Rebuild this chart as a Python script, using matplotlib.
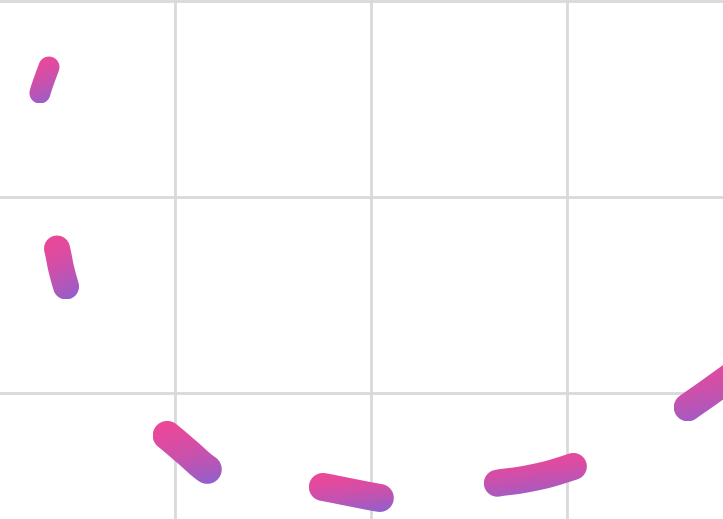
import numpy as np
import matplotlib
matplotlib.use("Agg")
import matplotlib.pyplot as plt
from matplotlib.path import Path
from matplotlib.patches import PathPatch
from matplotlib.colors import to_rgb

# ---- data ----
x_vals = [0.357, 0.311, 0.291, 0.301, 0.337, 0.398, 0.418, 0.444, 0.505, 0.592,
          0.709, 0.832, 0.959, 1.061, 1.163, 1.255, 1.383, 1.536, 1.663, 1.755,
          1.898, 2.046, 2.173, 2.301, 2.429, 2.546, 2.648, 2.760, 2.888, 2.974,
          3.036, 3.168, 3.321, 3.474, 3.617, 3.704, 3.796, 3.908]
y_vals = [26.64, 25.32, 24.15, 22.37, 19.82, 17.38, 16.41, 15.45, 13.46, 11.58,
          10.00, 8.83, 7.86, 7.00, 6.13, 5.73, 5.47, 5.37, 5.32, 5.22,
          4.94, 4.66, 4.50, 4.55, 4.81, 5.17, 5.42, 5.57, 5.83, 6.08,
          6.28, 6.69, 7.30, 8.22, 9.29, 9.90, 10.56, 11.37]
x_ticks = [1, 2, 3]
y_ticks = [10, 20, 30]

# ---- style ----
DASH_PATTERN = [27.5, 158, 39, 185, 52.5, 118, 58, 120, 78, 130, 400]  # pixels on/off
DASH_WIDTHS = [21, 26, 29, 28, 27, 28]                                  # pixels
PINK = np.array(to_rgb("#ec4899"))
PURPLE = np.array(to_rgb("#8c62d0"))
GRID = "#d9d9d9"

fig = plt.figure(figsize=(7.23, 5.19), dpi=100)
ax = fig.add_axes([0, 0, 1, 1])
XLIM = (0.1071, 3.7959)
YLIM = (3.588, 30.06)
ax.set_xlim(*XLIM)
ax.set_ylim(*YLIM)
ax.set_xticks(x_ticks)
ax.set_yticks(y_ticks)
ax.grid(True, color=GRID, linewidth=2.0)
ax.set_axisbelow(True)
ax.tick_params(length=0, labelbottom=False, labelleft=False)
for sp in ax.spines.values():
    sp.set_visible(False)


def catmull(P, n=10):
    P = np.asarray(P, float)
    ext = np.vstack([P[0], P, P[-1]])
    out = []
    t = np.linspace(0, 1, n, endpoint=False)[:, None]
    for i in range(1, len(ext) - 2):
        p0, p1, p2, p3 = ext[i - 1], ext[i], ext[i + 1], ext[i + 2]
        pts = 0.5 * ((2 * p1) + (-p0 + p2) * t + (2 * p0 - 5 * p1 + 4 * p2 - p3) * t ** 2
                     + (-p0 + 3 * p1 - 3 * p2 + p3) * t ** 3)
        out.append(pts)
    out.append(P[-1][None, :])
    return np.vstack(out)


disp = ax.transData.transform(np.column_stack([x_vals, y_vals]))
dense = catmull(disp, 12)
seglen = np.hypot(*np.diff(dense, axis=0).T)
s = np.concatenate([[0], np.cumsum(seglen)])
inv = ax.transData.inverted()


def draw_dash(a, b, w):
    n = max(int((b - a) / 1.0), 6)
    ss = np.linspace(a, b, n)
    cx = np.interp(ss, s, dense[:, 0])
    cy = np.interp(ss, s, dense[:, 1])
    tx, ty = np.gradient(cx), np.gradient(cy)
    nrm = np.hypot(tx, ty)
    tx, ty = tx / nrm, ty / nrm
    nx, ny = -ty, tx
    r = w / 2.0
    left = np.column_stack([cx + nx * r, cy + ny * r])
    right = np.column_stack([cx - nx * r, cy - ny * r])
    th_e = np.arctan2(ny[-1], nx[-1]) - np.linspace(0, np.pi, 24)
    end_arc = np.column_stack([cx[-1] + r * np.cos(th_e), cy[-1] + r * np.sin(th_e)])
    th_s = np.arctan2(ny[0], nx[0]) + np.pi - np.linspace(0, np.pi, 24)
    start_arc = np.column_stack([cx[0] + r * np.cos(th_s), cy[0] + r * np.sin(th_s)])
    poly = np.vstack([left, end_arc, right[::-1], start_arc, left[:1]])
    x0, y0 = poly.min(axis=0)
    x1, y1 = poly.max(axis=0)
    poly_d = inv.transform(poly)
    path = Path(poly_d, closed=True)
    patch = PathPatch(path, transform=ax.transData, facecolor="none", edgecolor="none")
    U, V = np.meshgrid(np.linspace(0, 1, 120), np.linspace(0, 1, 120))
    T = np.clip(0.2 * U + 0.8 * V, 0, 1) ** 1.6
    T = T[..., None]
    img = PINK * (1 - T) + PURPLE * T
    (dx0, dy0), (dx1, dy1) = inv.transform([[x0, y0], [x1, y1]])
    im = ax.imshow(img, extent=(dx0, dx1, dy0, dy1), origin="upper", aspect="auto",
                   interpolation="bilinear", zorder=3)
    im.set_clip_path(patch)


pos = 0.0
k = 0
for i, length in enumerate(DASH_PATTERN):
    if pos >= s[-1]:
        break
    if i % 2 == 0:
        draw_dash(pos, min(pos + length, s[-1]), DASH_WIDTHS[min(k, len(DASH_WIDTHS) - 1)])
        k += 1
    pos += length

ax.set_xlim(*XLIM)
ax.set_ylim(*YLIM)
fig.savefig("out.png", dpi=100)
